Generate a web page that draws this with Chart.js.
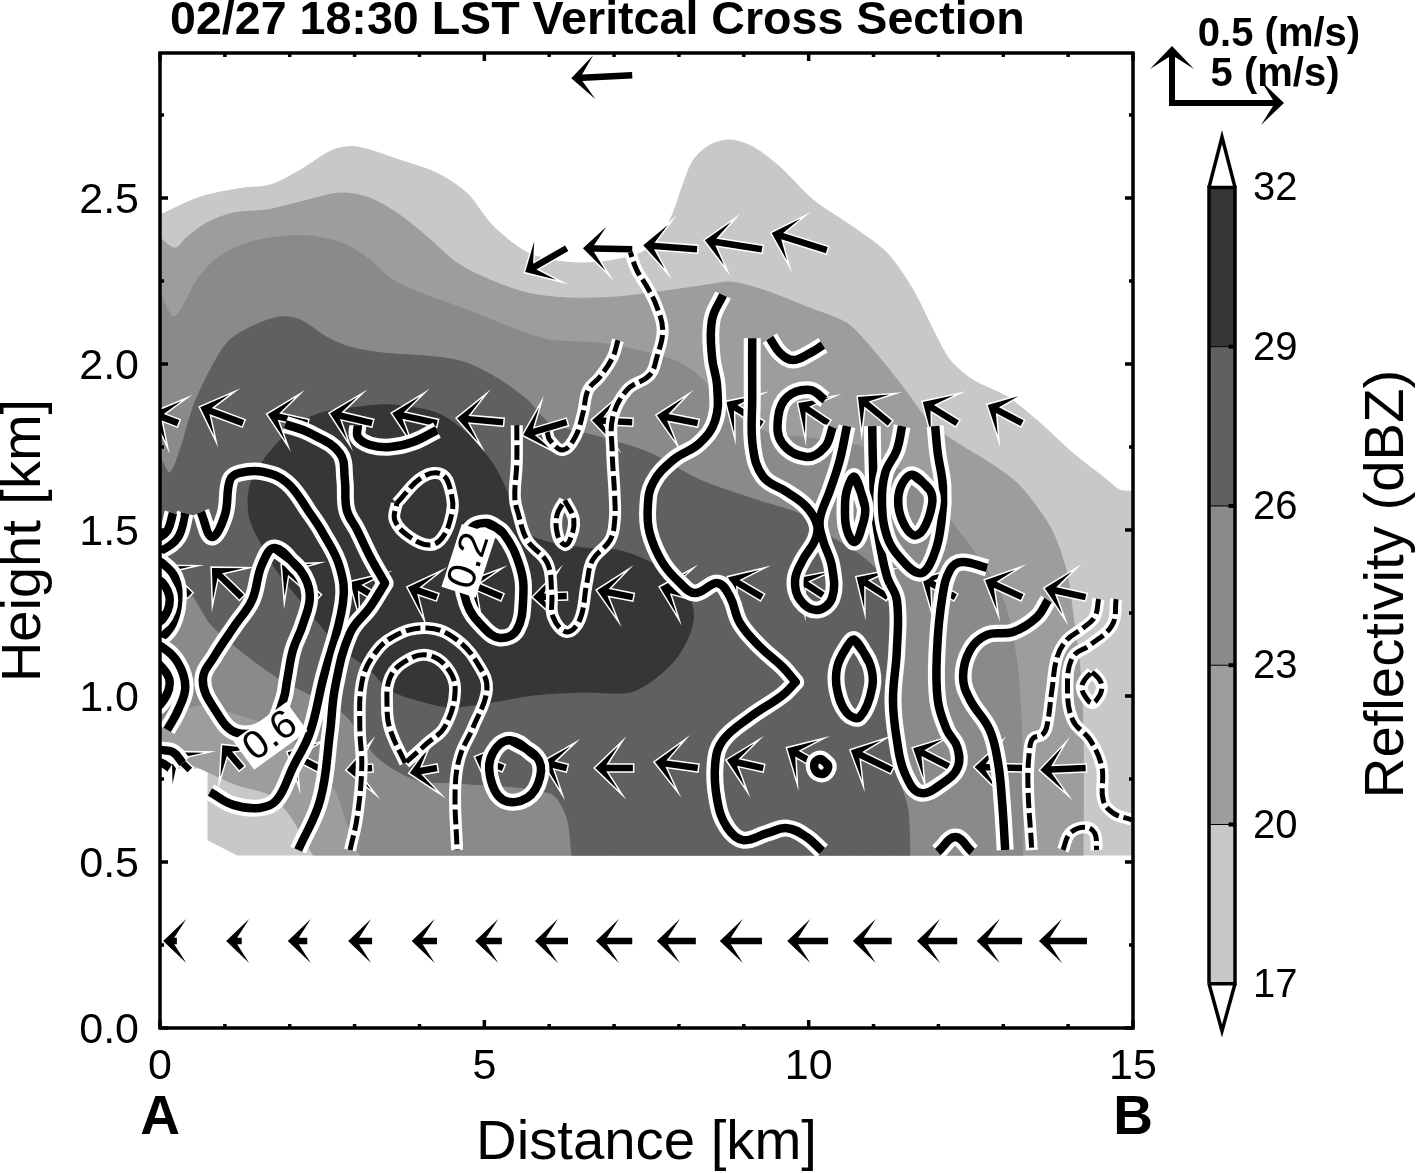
<!DOCTYPE html>
<html>
<head>
<meta charset="utf-8">
<title>Vertical cross section</title>
<script src="https://cdn.jsdelivr.net/npm/chart.js@4"></script>
<style>
  html, body { margin: 0; background: #fff; overflow: hidden; }
  canvas { position: absolute; }
</style>
</head>
<body>
<canvas id="section" width="1417" height="1173" style="left:0;top:0"></canvas>
<canvas id="colorbar" width="227" height="930" style="left:1190px;top:120px"></canvas>
<script>
// axes
const xTicks = [0,1,2,3,4,5,6,7,8,9,10,11,12,13,14,15];
const xLabels = ['0','','','','','5','','','','','10','','','','','15'];
const yTicks = [0,0.25,0.5,0.75,1,1.25,1.5,1.75,2,2.25,2.5,2.75];
const yLabels = ['0.0','','0.5','','1.0','','1.5','','2.0','','2.5',''];
const yMax = 2.937;

// reflectivity colour classes, [km, km] outlines, lightest first
const bandColors = ['#c8c8c8','#9d9d9d','#8a8a8a','#606060','#363636'];
const bandEdges = [17,20,23,26,29,32];
const fill17 = [[0,2.449],[0.62,2.503],[1.28,2.53],[1.7,2.539],[2.16,2.584],[2.67,2.645],[3.04,2.654],[3.7,2.614],[4.27,2.575],[4.73,2.515],[5.09,2.425],[5.44,2.364],[5.75,2.328],[6.27,2.307],[6.78,2.307],[7.4,2.334],[7.71,2.38],[7.91,2.455],[8.05,2.533],[8.22,2.614],[8.48,2.66],[8.79,2.675],[9.14,2.654],[9.56,2.593],[10.07,2.494],[10.68,2.413],[11.21,2.334],[11.61,2.223],[11.92,2.102],[12.18,2.012],[12.53,1.952],[13.06,1.901],[13.57,1.822],[14.07,1.732],[14.6,1.651],[14.8,1.62],[15,1.617],[15,1.617],[15,0.521],[15,0.521],[1.19,0.521],[1.19,0.521],[0.74,0.566],[0.74,0.566],[0.74,0.783],[0.74,0.783],[0,0.783],[0,0.783],[0,2.449]];
const fill20 = [[0,2.38],[0.23,2.349],[0.42,2.383],[0.72,2.425],[1.13,2.455],[1.65,2.464],[2.16,2.488],[2.77,2.515],[3.19,2.503],[3.65,2.455],[4.12,2.383],[4.58,2.304],[5.09,2.253],[5.66,2.214],[6.27,2.199],[7.04,2.202],[7.55,2.214],[7.91,2.223],[8.43,2.238],[8.79,2.247],[9.3,2.223],[9.97,2.172],[10.59,2.123],[10.9,2.063],[11.21,1.991],[11.52,1.913],[11.87,1.822],[12.29,1.762],[12.79,1.702],[13.21,1.642],[13.52,1.569],[13.77,1.491],[13.98,1.37],[14.07,1.25],[14.18,1.087],[14.23,0.889],[14.23,0.521],[14.23,0.521],[2.36,0.521],[2.36,0.521],[2,0.642],[1.7,0.702],[1.19,0.732],[0.74,0.771],[0.39,0.801],[0,0.822],[0,0.822],[0,2.38]];
const fill23 = [[0,2.214],[0.2,2.142],[0.35,2.172],[0.57,2.253],[0.88,2.319],[1.39,2.367],[2,2.386],[2.42,2.383],[2.88,2.358],[3.24,2.313],[3.59,2.253],[4.01,2.214],[4.73,2.163],[5.4,2.111],[6.01,2.072],[6.78,2.063],[7.55,2.033],[8.02,2.003],[8.37,1.952],[8.86,1.846],[9.4,1.792],[10.02,1.777],[10.84,1.75],[11.41,1.681],[11.87,1.605],[12.18,1.53],[12.64,1.41],[13,1.289],[13.18,1.139],[13.26,0.988],[13.3,0.747],[13.3,0.521],[13.3,0.521],[3.08,0.521],[3.08,0.521],[2.88,0.62],[2.7,0.717],[2.31,0.813],[1.85,0.898],[1.23,0.943],[0.62,0.973],[0,0.928],[0,0.928],[0,2.214]];
const fill26 = [[0,1.72],[0.15,1.672],[0.31,1.741],[0.51,1.87],[0.72,1.961],[1.03,2.063],[1.39,2.111],[1.85,2.142],[2.16,2.133],[2.57,2.081],[2.93,2.051],[3.44,2.033],[4.27,2.021],[4.73,2.003],[5.24,1.952],[5.66,1.892],[6.01,1.822],[6.78,1.78],[7.55,1.732],[8.32,1.651],[9.2,1.59],[9.87,1.548],[10.17,1.5],[10.79,1.425],[11.18,1.349],[11.36,1.229],[11.38,0.988],[11.41,0.747],[11.53,0.657],[11.56,0.521],[11.56,0.521],[6.35,0.521],[6.35,0.521],[6.27,0.636],[6.01,0.708],[4.58,0.738],[3.96,0.747],[3.35,0.816],[2.82,0.949],[1.8,1.057],[0.82,1.208],[0.42,1.319],[0.15,1.289],[0,1.229],[0,1.229],[0,1.72]];
const fill29 = [[1.65,1.726],[2.05,1.81],[2.47,1.852],[3.04,1.87],[3.55,1.877],[4.27,1.852],[4.73,1.792],[5.09,1.711],[5.29,1.642],[5.5,1.545],[5.75,1.479],[6.52,1.446],[7.04,1.44],[7.55,1.404],[8.02,1.343],[8.22,1.259],[8.17,1.19],[7.97,1.117],[7.66,1.057],[7.25,1.012],[6.52,1.012],[5.75,1.003],[5.13,0.982],[4.47,0.967],[3.96,0.988],[3.55,1.018],[3.24,1.078],[2.77,1.148],[2.47,1.214],[2.16,1.289],[1.85,1.364],[1.57,1.455],[1.39,1.53],[1.36,1.599],[1.42,1.651],[1.65,1.726]];

// wind arrows: tip and tail of each one
const arrowTipX = [
  0.05,1.02,1.97,2.9,3.88,4.86,5.78,6.72,7.66,8.63,9.67,10.68,11.67,12.59,13.55,
  5.63,6.52,7.45,8.4,9.43,6.34,
  -0.12,0.62,1.66,2.62,3.58,4.58,5.6,6.66,7.66,8.73,9.84,10.76,11.76,12.76,
  0,0.8,1.88,2.93,3.82,4.73,5.75,6.74,7.71,8.76,9.82,10.74,11.75,12.72,13.64,
  0.18,0.96,1.97,2.88,3.85,4.86,5.9,6.71,7.63,8.74,9.67,10.65,11.61,12.56,13.57];
const arrowTipY = [
  0.262,0.262,0.262,0.262,0.262,0.262,0.262,0.262,0.262,0.262,0.262,0.262,0.262,0.262,0.262,
  2.277,2.349,2.358,2.373,2.395,2.861,
  1.852,1.87,1.849,1.852,1.852,1.837,1.786,1.831,1.846,1.886,1.883,1.901,1.886,1.877,
  1.392,1.386,1.395,1.343,1.328,1.343,1.298,1.319,1.328,1.358,1.355,1.358,1.355,1.349,1.325,
  0.831,0.852,0.831,0.777,0.768,0.816,0.801,0.783,0.801,0.807,0.843,0.837,0.843,0.786,0.777];
const arrowTailX = [
  0.26,1.26,2.27,3.27,4.27,5.27,6.29,7.28,8.26,9.28,10.3,11.28,12.29,13.29,14.29,
  6.27,7.28,8.28,9.28,10.28,7.28,
  0.28,1.28,2.27,3.27,4.27,5.29,6.27,7.28,8.29,9.28,10.3,11.25,12.29,13.29,
  0.46,1.26,2.44,3.27,4.27,5.27,6.27,7.29,8.28,9.28,10.22,11.22,12.26,13.29,14.27,
  0.46,1.26,2.5,3.27,4.27,5.29,6.27,7.29,8.29,9.3,10.21,11.28,12.18,13.29,14.27];
const arrowTailY = [
  0.262,0.262,0.262,0.262,0.262,0.262,0.262,0.262,0.262,0.262,0.262,0.262,0.262,0.262,0.262,
  2.349,2.346,2.346,2.346,2.343,2.87,
  1.822,1.822,1.822,1.822,1.822,1.825,1.825,1.825,1.822,1.819,1.822,1.822,1.822,1.822,
  1.304,1.298,1.298,1.304,1.298,1.298,1.301,1.298,1.298,1.298,1.304,1.298,1.298,1.298,1.298,
  0.777,0.783,0.777,0.783,0.783,0.783,0.783,0.783,0.783,0.783,0.783,0.777,0.786,0.783,0.783];

// vertical velocity contours, positive (solid)
const solidLines = [
  [[0.63,1.554],[0.8,1.479],[1,1.545],[1.08,1.651],[1.23,1.672],[1.59,1.675],[1.96,1.642],[2.31,1.551],[2.51,1.491],[2.77,1.389],[2.82,1.28],[2.51,1.048],[2.31,0.889],[2.05,0.786],[1.8,0.687],[1.54,0.663],[1.13,0.672],[0.77,0.711]],
  [[1.93,1.819],[2.31,1.792],[2.77,1.732],[2.85,1.651],[2.88,1.56],[3.04,1.5],[3.24,1.419],[3.47,1.34],[3.47,1.34],[3.24,1.268],[2.93,1.19],[2.7,1.027],[2.62,0.889],[2.47,0.687],[2.13,0.536]],
  [[-0.15,1.431],[0.03,1.44],[0.28,1.479],[0.39,1.551]],
  [[-0.15,1.47],[0,1.479],[0.12,1.5],[0.2,1.551]],
  [[-0.15,1.419],[0.03,1.401],[0.23,1.358],[0.28,1.289],[0.2,1.22],[0.03,1.178],[-0.15,1.169]],
  [[-0.15,1.355],[0.03,1.343],[0.15,1.289],[0.03,1.229],[-0.15,1.22]],
  [[-0.15,1.16],[0.03,1.148],[0.28,1.099],[0.39,1.027],[0.28,0.958],[0.11,0.898]],
  [[-0.15,1.108],[0,1.093],[0.15,1.039],[0,0.973],[-0.15,0.964]],
  [[-0.15,0.843],[0.03,0.837],[0.2,0.831],[0.35,0.798]],
  [[-0.15,0.801],[0.03,0.798],[0.15,0.783]],
  [[3.05,1.816],[3.05,1.78],[3.24,1.756],[3.55,1.75],[3.9,1.765],[4.27,1.801]],
  [[8.68,2.208],[8.51,2.133],[8.51,2.021],[8.59,1.931],[8.56,1.831],[8.32,1.762],[7.91,1.711],[7.6,1.642],[7.52,1.569],[7.55,1.491],[7.75,1.401],[8.02,1.34],[8.25,1.31],[8.6,1.34],[8.79,1.298],[8.94,1.22],[9.25,1.148],[9.6,1.087],[9.8,1.042],[9.8,1.042],[9.6,1.003],[9.1,0.937],[8.68,0.867],[8.56,0.798],[8.59,0.687],[8.74,0.605],[8.99,0.566],[9.36,0.587],[9.67,0.602],[9.97,0.575],[10.21,0.533]],
  [[9.13,2.078],[9.13,1.901],[9.14,1.75],[9.3,1.66],[9.67,1.614],[9.97,1.569],[10.13,1.515],[10.1,1.47],[9.91,1.41],[9.79,1.349],[9.87,1.289],[10.13,1.259],[10.36,1.295],[10.36,1.389],[10.22,1.47],[10.17,1.53],[10.33,1.62],[10.48,1.711],[10.59,1.813]],
  [[9.4,2.078],[9.56,2.033],[9.76,2.012],[10.02,2.033],[10.22,2.057]],
  [[10.25,1.892],[10.02,1.922],[9.67,1.901],[9.53,1.84],[9.59,1.762],[9.97,1.72],[10.25,1.75],[10.37,1.81]],
  [[10.98,1.813],[10.99,1.711],[11.02,1.56],[11.1,1.455],[11.21,1.358],[11.36,1.289],[11.36,1.139],[11.3,0.988],[11.36,0.867],[11.48,0.768],[11.72,0.708],[12.07,0.738],[12.3,0.786],[12.29,0.846],[12.13,0.898],[11.99,0.988],[11.98,1.139],[12.06,1.298],[12.18,1.38],[12.36,1.404],[12.75,1.386]],
  [[11.44,1.813],[11.36,1.741],[11.18,1.672],[11.13,1.581],[11.21,1.479],[11.41,1.416],[11.72,1.37],[11.92,1.419],[12.05,1.53],[12.07,1.63],[11.99,1.732],[11.95,1.813]],
  [[13.69,1.289],[13.52,1.238],[13.15,1.193],[12.75,1.184],[12.49,1.139],[12.38,1.057],[12.49,0.988],[12.79,0.898],[12.92,0.798],[12.98,0.687],[13.03,0.536]],
  [[11.99,0.53],[12.26,0.575],[12.52,0.53]]
];
const solidLoops = [
  [[1.77,1.446],[2.16,1.38],[2.31,1.304],[2.2,1.214],[2.05,1.139],[1.96,1.048],[1.9,0.988],[1.7,0.913],[1.19,0.889],[0.85,0.958],[0.66,1.048],[0.85,1.123],[1.16,1.214],[1.42,1.289],[1.57,1.395]],
  [[5.04,1.521],[5.29,1.491],[5.55,1.389],[5.6,1.298],[5.5,1.199],[5.24,1.175],[4.98,1.208],[4.73,1.28],[4.66,1.395],[4.78,1.5]],
  [[5.4,0.867],[5.81,0.816],[5.86,0.756],[5.66,0.693],[5.29,0.687],[5.09,0.756],[5.13,0.828]],
  [[10.71,1.66],[10.87,1.569],[10.82,1.509],[10.71,1.464],[10.59,1.5],[10.56,1.56],[10.59,1.62]],
  [[11.61,1.666],[11.87,1.62],[11.9,1.575],[11.76,1.5],[11.61,1.485],[11.44,1.53],[11.38,1.59],[11.45,1.642]],
  [[10.71,1.169],[10.94,1.099],[10.98,1.027],[10.79,0.937],[10.59,0.949],[10.44,1.018],[10.44,1.087],[10.59,1.148]],
  [[10.19,0.81],[10.3,0.79],[10.24,0.767],[10.12,0.772],[10.09,0.798]]
];
// negative (dashed)
const dashedLines = [
  [[5.5,1.816],[5.5,1.702],[5.47,1.599],[5.52,1.551],[5.66,1.47],[5.97,1.401],[6.04,1.31],[6.06,1.238],[6.27,1.193],[6.47,1.229],[6.58,1.34],[6.67,1.41],[6.94,1.47],[7.01,1.53],[7.01,1.599],[6.97,1.741],[6.98,1.84],[7.2,1.922],[7.55,1.967],[7.66,2.021],[7.75,2.102],[7.66,2.172],[7.51,2.232],[7.35,2.283],[7.25,2.337]],
  [[7.06,2.072],[6.98,2.021],[6.78,1.961],[6.6,1.922],[6.52,1.852],[6.4,1.78],[6.21,1.741],[6.01,1.771],[5.97,1.795]],
  [[2.93,0.536],[3.04,0.636],[3.11,0.786],[3.08,0.907],[3.11,1.039],[3.27,1.117],[3.59,1.178],[4.12,1.205],[4.58,1.169],[4.93,1.087],[5.04,1.018],[4.83,0.907],[4.62,0.816],[4.55,0.717],[4.58,0.536]],
  [[14.47,1.292],[14.41,1.238],[14.23,1.205],[13.98,1.169],[13.83,1.117],[13.75,1.018],[13.67,0.907],[13.6,0.883],[13.46,0.873],[13.41,0.846],[13.38,0.738],[13.44,0.536]],
  [[14.74,1.292],[14.68,1.214],[14.34,1.154],[14.07,1.117],[13.99,1.027],[14.07,0.928],[14.34,0.867],[14.52,0.786],[14.54,0.687],[14.69,0.648],[14.98,0.627]],
  [[13.92,0.536],[14.03,0.587],[14.26,0.605],[14.41,0.587],[14.44,0.536]]
];
const dashedLoops = [
  [[3.65,1.581],[4.05,1.66],[4.36,1.666],[4.5,1.6],[4.5,1.551],[4.36,1.479],[4.16,1.455],[3.85,1.479],[3.62,1.53]],
  [[6.24,1.59],[6.38,1.53],[6.32,1.47],[6.24,1.455],[6.13,1.485],[6.12,1.545]],
  [[3.78,0.798],[3.55,0.898],[3.5,0.967],[3.55,1.057],[3.81,1.108],[4.13,1.123],[4.42,1.087],[4.55,1.018],[4.39,0.907],[4.12,0.858]],
  [[14.37,1.072],[14.48,1.05],[14.52,1.027],[14.48,1],[14.37,0.979],[14.26,1],[14.21,1.027],[14.26,1.05]]
];
// inline contour labels
const contourLabelText = ['0.6','0.2'];
const contourLabelX = [1.7,4.76];
const contourLabelY = [0.88,1.407];
const contourLabelDeg = [-36,-72];

const FONT = '"Liberation Sans", Arial, sans-serif';
const toPoints = (pairs) => pairs.map((p) => ({ x: p[0], y: p[1] }));

// fills a dataset's outline, using the line element the library already built
const polygonFill = {
  id: 'polygonFill',
  beforeDatasetDraw(chart, args) {
    const ds = chart.data.datasets[args.index];
    if (!ds.polygonColor) return;
    const line = args.meta.dataset, ctx = chart.ctx;
    line.updateControlPoints(chart.chartArea);
    ctx.save();
    ctx.beginPath();
    line.path(ctx);
    ctx.closePath();
    ctx.fillStyle = ds.polygonColor;
    ctx.fill();
    ctx.restore();
  }
};

function arrowShape(ctx, x0, y0, x1, y1, shaft) {
  const a = Math.atan2(y1 - y0, x1 - x0);
  const len = Math.hypot(x1 - x0, y1 - y0);
  ctx.save();
  ctx.translate(x1, y1);
  ctx.rotate(a);
  ctx.beginPath();
  ctx.moveTo(-len, -shaft / 2);
  ctx.lineTo(-11, -shaft / 2);
  ctx.lineTo(-23, -22);
  ctx.lineTo(0, 0);
  ctx.lineTo(-23, 22);
  ctx.lineTo(-11, shaft / 2);
  ctx.lineTo(-len, shaft / 2);
  ctx.closePath();
  ctx.restore();
}

const windArrows = {
  id: 'windArrows',
  beforeDatasetDraw(chart, args) {
    const ds = chart.data.datasets[args.index];
    if (!ds.arrowTails) return;
    const { ctx, chartArea: a, scales } = chart;
    ctx.save();
    ctx.beginPath();
    ctx.rect(a.left, a.top, a.right - a.left, a.bottom - a.top);
    ctx.clip();
    args.meta.data.forEach((tip, i) => {
      const tx = scales.x.getPixelForValue(ds.arrowTails[i].x);
      const ty = scales.y.getPixelForValue(ds.arrowTails[i].y);
      arrowShape(ctx, tx, ty, tip.x, tip.y, 6.5);
      ctx.lineJoin = 'miter';
      ctx.miterLimit = 12;
      ctx.lineWidth = 3;
      ctx.strokeStyle = '#fff';
      ctx.stroke();
      ctx.fillStyle = '#000';
      ctx.fill();
    });
    ctx.restore();
  }
};

const decorations = {
  id: 'decorations',
  afterDatasetsDraw(chart) {
    const { ctx, chartArea: a, scales } = chart;
    ctx.save();
    // labels sitting on the contours
    contourLabelText.forEach((t, i) => {
      ctx.save();
      ctx.translate(scales.x.getPixelForValue(contourLabelX[i]), scales.y.getPixelForValue(contourLabelY[i]));
      ctx.rotate(contourLabelDeg[i] * Math.PI / 180);
      ctx.fillStyle = '#fff';
      ctx.fillRect(-33, -18, 66, 36);
      ctx.fillStyle = '#000';
      ctx.font = '40px ' + FONT;
      ctx.textAlign = 'center';
      ctx.textBaseline = 'middle';
      ctx.fillText(t, 0, 1);
      ctx.restore();
    });
    // frame with inward ticks on all four sides
    ctx.strokeStyle = '#000';
    ctx.lineWidth = 3.5;
    ctx.strokeRect(a.left, a.top, a.right - a.left, a.bottom - a.top);
    xTicks.forEach((v, i) => {
      const x = scales.x.getPixelForValue(v), l = xLabels[i] ? 8 : 4;
      ctx.beginPath();
      ctx.moveTo(x, a.bottom); ctx.lineTo(x, a.bottom - l);
      ctx.moveTo(x, a.top); ctx.lineTo(x, a.top + l);
      ctx.stroke();
    });
    yTicks.forEach((v, i) => {
      const y = scales.y.getPixelForValue(v), l = yLabels[i] ? 8 : 4;
      ctx.beginPath();
      ctx.moveTo(a.left, y); ctx.lineTo(a.left + l, y);
      ctx.moveTo(a.right, y); ctx.lineTo(a.right - l, y);
      ctx.stroke();
    });
    // section end points
    ctx.fillStyle = '#000';
    ctx.font = 'bold 55px ' + FONT;
    ctx.textAlign = 'center';
    ctx.textBaseline = 'alphabetic';
    ctx.fillText('A', scales.x.getPixelForValue(0), 1134);
    ctx.fillText('B', scales.x.getPixelForValue(15), 1134);
    // reference vector key
    ctx.font = 'bold 40px ' + FONT;
    ctx.fillText('0.5 (m/s)', 1279, 46);
    ctx.fillText('5 (m/s)', 1275, 86);
    arrowShape(ctx, 1172, 105, 1172, 46, 6);
    ctx.fill();
    arrowShape(ctx, 1169, 103, 1284, 103, 6);
    ctx.fill();
    ctx.restore();
  },
  afterLayout(chart) {
    // title starts a little inside the plot's left edge
    chart.titleBlock.left += 10;
    chart.titleBlock.right += 10;
  }
};

// painter's order: first pushed is drawn first
const datasets = [];
const addSet = (d) => { d.order = 1000 - datasets.length; datasets.push(d); };

[fill17, fill20, fill23, fill26, fill29].forEach((pairs, i) => {
  addSet({ data: toPoints(pairs), showLine: true, pointRadius: 0, tension: 0.3,
    polygonColor: bandColors[i], borderColor: bandColors[i], borderWidth: 1 });
});

addSet({
  data: arrowTipX.map((x, i) => ({ x: x, y: arrowTipY[i] })),
  arrowTails: arrowTailX.map((x, i) => ({ x: x, y: arrowTailY[i] })),
  showLine: false, pointRadius: 0
});

function addContour(pairs, dashed) {
  const common = { data: toPoints(pairs), showLine: true, pointRadius: 0, tension: 0.4,
    borderCapStyle: 'butt', borderJoinStyle: 'round' };
  addSet({ ...common, borderColor: '#fff', borderWidth: dashed ? 12 : 17 });
  addSet({ ...common, borderColor: '#000', borderWidth: dashed ? 5 : 8.5,
    borderDash: dashed ? [15, 5] : [] });
}
solidLines.forEach((p) => addContour(p, false));
solidLoops.forEach((p) => addContour(p.concat([p[0], p[1]]), false));
dashedLines.forEach((p) => addContour(p, true));
dashedLoops.forEach((p) => addContour(p.concat([p[0]]), true));

new Chart(document.getElementById('section'), {
  type: 'scatter',
  data: { datasets: datasets },
  plugins: [polygonFill, windArrows, decorations],
  options: {
    responsive: false,
    animation: false,
    events: [],
    layout: { padding: { right: 284 } },
    plugins: {
      legend: { display: false },
      tooltip: { enabled: false },
      title: {
        display: true,
        text: '02/27 18:30 LST Veritcal Cross Section',
        align: 'start',
        fullSize: false,
        color: '#000',
        font: { family: FONT, size: 46.6, weight: 'bold', lineHeight: 40 / 46.6 },
        padding: { top: 1, bottom: 12 }
      }
    },
    scales: {
      x: {
        type: 'linear', min: 0, max: 15,
        grid: { display: false }, border: { display: false },
        afterBuildTicks: (s) => { s.ticks = xTicks.map((v) => ({ value: v })); },
        afterFit: (s) => { s.height = 145; },
        ticks: {
          autoSkip: false, maxRotation: 0, minRotation: 0, padding: 5, color: '#000',
          font: { family: FONT, size: 43 },
          callback: (v, i) => xLabels[i]
        },
        title: {
          display: true, text: 'Distance [km]', color: '#000',
          font: { family: FONT, size: 56.3, lineHeight: 1 },
          padding: { top: 0, bottom: 1 }
        }
      },
      y: {
        type: 'linear', min: 0, max: yMax,
        grid: { display: false }, border: { display: false },
        afterBuildTicks: (s) => { s.ticks = yTicks.map((v) => ({ value: v })); },
        afterFit: (s) => { s.width = 160; },
        ticks: {
          autoSkip: false, padding: 13, labelOffset: 3, color: '#000',
          font: { family: FONT, size: 43 },
          callback: (v, i) => yLabels[i]
        },
        title: {
          display: true, text: 'Height [km]', color: '#000',
          font: { family: FONT, size: 56, lineHeight: 1 },
          padding: { top: -3, bottom: 0 }
        }
      }
    }
  }
});

// colour bar
const barSets = [];
bandColors.forEach((c, i) => {
  barSets.push({
    data: [{ x: 0, y: bandEdges[i] }, { x: 1, y: bandEdges[i] }, { x: 1, y: bandEdges[i + 1] }, { x: 0, y: bandEdges[i + 1] }],
    showLine: true, pointRadius: 0, polygonColor: c, borderWidth: 0
  });
});
const outline = (pts, w) => ({ data: pts, showLine: true, pointRadius: 0, borderColor: '#000', borderWidth: w,
  borderJoinStyle: 'miter', clip: false });
bandEdges.slice(1, -1).forEach((v) => {
  barSets.push(outline([{ x: 0, y: v }, { x: 1, y: v }], 1));
  barSets.push(outline([{ x: 0.75, y: v }, { x: 1, y: v }], 4));
});
barSets.push(outline([{ x: 0, y: 17 }, { x: 1, y: 17 }, { x: 1, y: 32 }, { x: 0, y: 32 }, { x: 0, y: 17 }], 3.5));
barSets.push(outline([{ x: 0, y: 32 }, { x: 0.5, y: 32.95 }, { x: 1, y: 32 }], 3.5));
barSets.push(outline([{ x: 0, y: 17 }, { x: 0.5, y: 16.11 }, { x: 1, y: 17 }], 3.5));
barSets.forEach((d, i) => { d.order = 100 - i; });

const barTitle = {
  id: 'barTitle',
  afterDatasetsDraw(chart) {
    const ctx = chart.ctx;
    ctx.save();
    ctx.translate(197, 464);
    ctx.rotate(-Math.PI / 2);
    ctx.fillStyle = '#000';
    ctx.font = '56.3px ' + FONT;
    ctx.textAlign = 'center';
    ctx.textBaseline = 'middle';
    ctx.fillText('Reflectivity (dBZ)', 0, 0);
    ctx.restore();
  }
};

new Chart(document.getElementById('colorbar'), {
  type: 'scatter',
  data: { datasets: barSets },
  plugins: [polygonFill, barTitle],
  options: {
    responsive: false,
    animation: false,
    events: [],
    layout: { padding: { left: 19, top: 17, bottom: 19 } },
    plugins: { legend: { display: false }, tooltip: { enabled: false } },
    scales: {
      x: { type: 'linear', min: 0, max: 1, display: false },
      y: {
        type: 'linear', position: 'right', min: 16.11, max: 32.95,
        grid: { display: false }, border: { display: false },
        afterBuildTicks: (s) => { s.ticks = bandEdges.map((v) => ({ value: v })); },
        afterFit: (s) => { s.width = 182; s.paddingTop = 0; s.paddingBottom = 0; },
        ticks: { padding: 10, labelOffset: 2, color: '#000', font: { family: FONT, size: 40 } }
      }
    }
  }
});
</script>
</body>
</html>
